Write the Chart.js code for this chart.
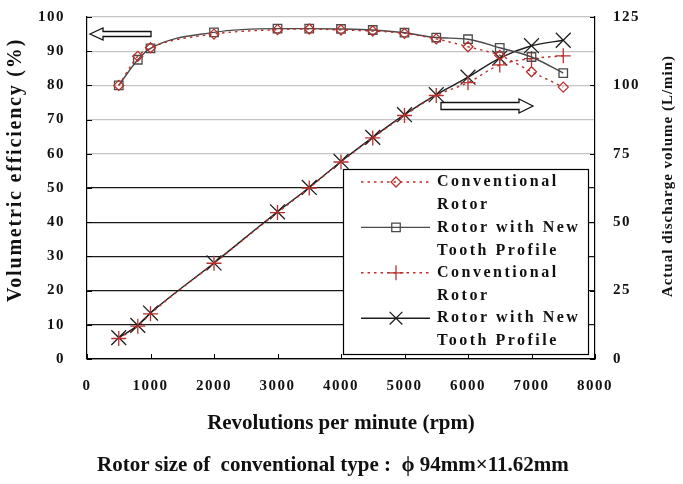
<!DOCTYPE html>
<html>
<head>
<meta charset="utf-8">
<script src="https://cdn.jsdelivr.net/npm/chart.js@4/dist/chart.umd.min.js"></script>
<style>
  html, body { margin: 0; padding: 0; background: #fff; }
  #wrap { width: 683px; height: 484px; }
</style>
</head>
<body>
<div id="wrap"><canvas id="myChart" width="683" height="484"></canvas></div>
<script>
// data
const rpm = [500, 800, 1000, 2000, 3000, 3500, 4000, 4500, 5000, 5500, 6000, 6500, 7000, 7500];
const effConventional = [80, 88.5, 91, 95, 96.3, 96.5, 96.2, 95.9, 95.2, 93.6, 91.3, 88.8, 84, 79.5];
const effNewProfile = [80, 87.5, 90.8, 95.5, 96.6, 96.6, 96.5, 96.2, 95.4, 94, 93.5, 91, 88.3, 83.6];
const flowConventional = [7.5, 12, 16.5, 35, 53.5, 62.5, 72, 80.8, 89, 96.3, 101, 107.5, 109.8, 110.8];
const flowNewProfile = [7.8, 12.3, 16.8, 35.1, 53.8, 62.7, 72.2, 81, 89.3, 96.6, 103, 110, 114.5, 116.5];

const effTicks = [0, 10, 20, 30, 40, 50, 60, 70, 80, 90, 100];
const flowTicks = [0, 25, 50, 75, 100, 125];
const rpmTicks = [0, 1000, 2000, 3000, 4000, 5000, 6000, 7000, 8000];

const legendLabels = [
  ['Conventional', 'Rotor'],
  ['Rotor with New', 'Tooth Profile'],
  ['Conventional', 'Rotor'],
  ['Rotor with New', 'Tooth Profile']
];

const RED = '#b8312c';
const BLACK = '#1e1e1e';
const SERIF = '"Liberation Serif", "Times New Roman", serif';
const PLOT_TOP = 17;

function pts(ys) {
  return rpm.map((x, i) => ({ x: x, y: ys[i] }));
}

// small helper to draw a marker shape
function marker(ctx, style, x, y, r, color) {
  ctx.save();
  ctx.strokeStyle = color;
  ctx.lineWidth = 1.3;
  ctx.setLineDash([]);
  ctx.beginPath();
  if (style === 'rectRot') {
    ctx.moveTo(x, y - r); ctx.lineTo(x + r, y); ctx.lineTo(x, y + r); ctx.lineTo(x - r, y); ctx.closePath();
  } else if (style === 'rect') {
    const s = r * Math.SQRT1_2;
    ctx.rect(x - s, y - s, 2 * s, 2 * s);
  } else if (style === 'cross') {
    ctx.moveTo(x - r, y); ctx.lineTo(x + r, y); ctx.moveTo(x, y - r); ctx.lineTo(x, y + r);
  } else {
    const s = r * Math.SQRT1_2;
    ctx.moveTo(x - s, y - s); ctx.lineTo(x + s, y + s); ctx.moveTo(x - s, y + s); ctx.lineTo(x + s, y - s);
  }
  ctx.stroke();
  ctx.restore();
}

function outlineArrow(ctx, tipX, baseX, tailX, y, body, head) {
  ctx.save();
  ctx.strokeStyle = '#111';
  ctx.fillStyle = '#fff';
  ctx.lineWidth = 1.3;
  ctx.beginPath();
  ctx.moveTo(tipX, y);
  ctx.lineTo(baseX, y - head);
  ctx.lineTo(baseX, y - body);
  ctx.lineTo(tailX, y - body);
  ctx.lineTo(tailX, y + body);
  ctx.lineTo(baseX, y + body);
  ctx.lineTo(baseX, y + head);
  ctx.closePath();
  ctx.fill();
  ctx.stroke();
  ctx.restore();
}

const dataSets = [
  { data: effConventional, axis: 'y', style: 'rectRot', r: 5, color: RED, dash: [2.5, 4] },
  { data: effNewProfile, axis: 'y', style: 'rect', r: 6, color: '#4a4a4a', dash: [] },
  { data: flowConventional, axis: 'y1', style: 'cross', r: 7.5, color: RED, dash: [2.5, 4] },
  { data: flowNewProfile, axis: 'y1', style: 'crossRot', r: 10.5, color: BLACK, dash: [] }
];

// extras: plot top fix, inner ticks, legend box, arrows and titles
const decorations = {
  id: 'decorations',
  afterLayout(chart) {
    // pin the top of the plot area to where it sits in the reference
    const a = chart.chartArea;
    a.top = PLOT_TOP;
    a.height = a.bottom - a.top;
    ['y', 'y1'].forEach(id => {
      const s = chart.scales[id];
      s.top = PLOT_TOP;
      s.height = s.bottom - s.top;
      s.configure();
    });
  },
  beforeDraw(chart) {
    chart.ctx.letterSpacing = '1.5px';
  },
  afterDatasetsDraw(chart) {
    const ctx = chart.ctx;
    const a = chart.chartArea;
    const sx = chart.scales.x, sy = chart.scales.y, sy1 = chart.scales.y1;
    ctx.save();
    ctx.letterSpacing = '0px';
    ctx.strokeStyle = '#000';
    ctx.lineWidth = 1;
    ctx.beginPath();
    rpmTicks.forEach(v => { const p = Math.round(sx.getPixelForValue(v)) + 0.5; ctx.moveTo(p, a.bottom); ctx.lineTo(p, a.bottom - 5); });
    effTicks.forEach(v => { const p = Math.round(sy.getPixelForValue(v)) + 0.5; ctx.moveTo(a.left, p); ctx.lineTo(a.left + 5, p); });
    flowTicks.forEach(v => { const p = Math.round(sy1.getPixelForValue(v)) + 0.5; ctx.moveTo(a.right, p); ctx.lineTo(a.right - 5, p); });
    ctx.stroke();

    // legend box
    const lx = 343, ly = 169, lw = 245, lh = 185;
    ctx.fillStyle = '#fff';
    ctx.fillRect(lx, ly, lw, lh);
    ctx.strokeStyle = '#000';
    ctx.lineWidth = 1.2;
    ctx.strokeRect(lx + 0.5, ly + 0.5, lw, lh);
    ctx.font = 'bold 16px ' + SERIF;
    ctx.letterSpacing = '2.5px';
    ctx.textBaseline = 'middle';
    ctx.textAlign = 'left';
    ctx.fillStyle = '#111';
    legendLabels.forEach((lines, i) => {
      const y0 = 182 + i * 45.4;
      const d = dataSets[i];
      ctx.save();
      ctx.strokeStyle = d.color;
      ctx.lineWidth = 1.4;
      ctx.setLineDash(d.dash);
      ctx.beginPath();
      ctx.moveTo(361, y0); ctx.lineTo(430, y0);
      ctx.stroke();
      ctx.restore();
      marker(ctx, d.style, 396, y0, d.style === 'crossRot' ? 9 : d.r, d.color);
      ctx.fillText(lines[0], 437, y0);
      ctx.fillText(lines[1], 437, y0 + 23);
    });

    // arrows pointing to the matching axis
    outlineArrow(ctx, 90, 103, 151, 34, 2.5, 6);
    outlineArrow(ctx, 533, 519, 441, 106, 3.5, 7);
    ctx.restore();
  },
  afterDraw(chart) {
    const ctx = chart.ctx;
    ctx.save();
    ctx.fillStyle = '#111';
    ctx.textAlign = 'center';
    ctx.textBaseline = 'middle';

    ctx.save();
    ctx.translate(16, 170);
    ctx.rotate(-Math.PI / 2);
    ctx.font = 'bold 20px ' + SERIF;
    ctx.letterSpacing = '1.8px';
    ctx.fillText('Volumetric efficiency (%)', 0, 0);
    ctx.restore();

    ctx.save();
    ctx.translate(668, 176);
    ctx.rotate(-Math.PI / 2);
    ctx.font = 'bold 15px ' + SERIF;
    ctx.letterSpacing = '1px';
    ctx.fillText('Actual discharge volume (L/min)', 0, 0);
    ctx.restore();

    ctx.letterSpacing = '0px';
    ctx.font = 'bold 21px ' + SERIF;
    ctx.fillText('Revolutions per minute (rpm)', 341, 424);
    ctx.textAlign = 'left';
    ctx.fillText('Rotor size of  conventional type :  \u03d5 94mm\u00d711.62mm', 97, 466);
    ctx.restore();
  }
};

const plain = v => String(v);

const ctx = document.getElementById('myChart').getContext('2d');
window.myChart = new Chart(ctx, {
  type: 'line',
  data: {
    datasets: dataSets.map((d, i) => ({
      label: legendLabels[i].join(' '),
      data: pts(d.data),
      yAxisID: d.axis,
      borderColor: d.color,
      borderWidth: 1.4,
      borderDash: d.dash,
      backgroundColor: 'transparent',
      pointStyle: d.style,
      pointRadius: d.r,
      pointBorderColor: d.color,
      pointBackgroundColor: 'transparent',
      pointBorderWidth: 1.3,
      cubicInterpolationMode: 'monotone',
      fill: false
    }))
  },
  options: {
    responsive: false,
    animation: false,
    layout: { padding: { top: 2, left: 0, right: 0, bottom: 0 } },
    plugins: { legend: { display: false }, tooltip: { enabled: false } },
    scales: {
      x: {
        type: 'linear', min: 0, max: 8000,
        afterBuildTicks: s => { s.ticks = rpmTicks.map(v => ({ value: v })); },
        afterFit: s => { s.height = 125; },
        grid: { display: false, drawTicks: false },
        border: { color: '#000', width: 1.2 },
        ticks: { padding: 18, color: '#111', callback: plain, font: { family: SERIF, size: 15, weight: 'bold' } }
      },
      y: {
        position: 'left', min: 0, max: 100,
        afterBuildTicks: s => { s.ticks = effTicks.map(v => ({ value: v })); },
        afterFit: s => { s.width = 87; },
        grid: {
          drawTicks: false,
          lineWidth: 1.2,
          color: c => (c.tick && c.tick.value > 50 ? '#c4c4c4' : '#1a1a1a')
        },
        border: { color: '#000', width: 1.2 },
        ticks: { padding: 22, color: '#111', callback: plain, font: { family: SERIF, size: 15, weight: 'bold' } }
      },
      y1: {
        position: 'right', min: 0, max: 125,
        afterBuildTicks: s => { s.ticks = flowTicks.map(v => ({ value: v })); },
        afterFit: s => { s.width = 88; },
        grid: { display: false, drawTicks: false },
        border: { color: '#000', width: 1.2 },
        ticks: { padding: 18, color: '#111', callback: plain, font: { family: SERIF, size: 15, weight: 'bold' } }
      }
    }
  },
  plugins: [decorations]
});
</script>
</body>
</html>
